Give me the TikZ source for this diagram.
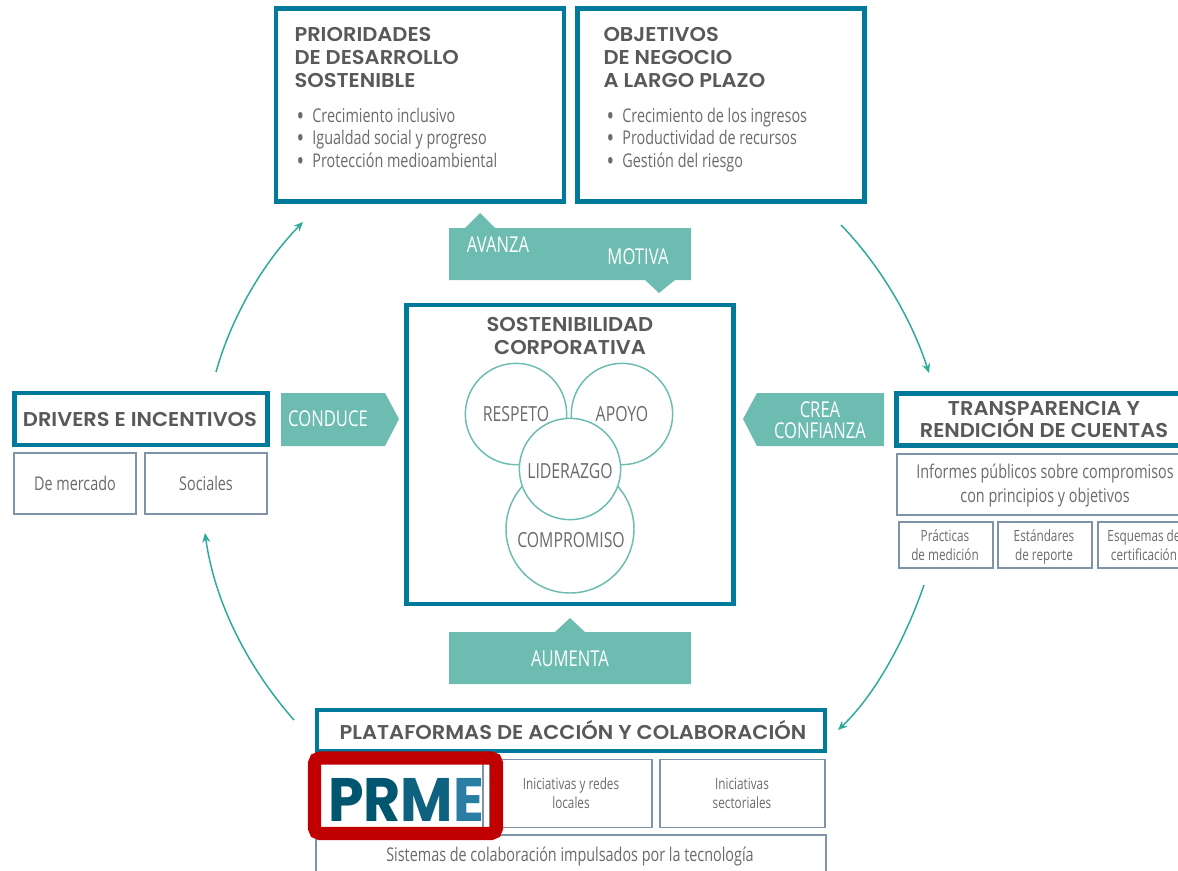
\documentclass[tikz,border=0pt]{standalone}
\usepackage{fontspec}
\usepackage{tikz}
\setmainfont{Open Sans}
\newfontfamily\headfont{Poppins SemiBold}[FakeStretch=1.05]
\newfontfamily\bodyfont{Open Sans}[FakeStretch=0.76]
\newfontfamily\logofont{Poppins}[FakeStretch=0.93]
\definecolor{framecol}{HTML}{007A9A}
\definecolor{thincol}{HTML}{7F94AB}
\definecolor{bandcol}{HTML}{6CBCB2}
\definecolor{arrowcol}{HTML}{2BA99B}
\definecolor{headcol}{HTML}{58595B}
\definecolor{bodycol}{HTML}{6A6B6E}
\definecolor{redcol}{HTML}{C00000}
\tikzset{
  every picture/.style={line width=0.75pt},
  framebox/.style={draw=framecol,line width=3.4pt,fill=white,inner sep=0pt,outer sep=0pt},
  thinbox/.style={draw=thincol,line width=1.4pt,fill=white,inner sep=0pt,outer sep=0pt},
  headtext/.style={anchor=west,inner sep=0.75pt,align=left,text=headcol,font=\headfont\fontsize{15}{17.5}\selectfont},
  headmid/.style={inner sep=0.75pt,align=center,text=headcol,font=\headfont\fontsize{15}{17.2}\selectfont},
  bodytext/.style={anchor=base west,inner sep=0.75pt,text=bodycol,font=\bodyfont\fontsize{14.2}{16}\selectfont},
  bodymid/.style={inner sep=0.75pt,align=center,text=bodycol,font=\bodyfont\fontsize{14.2}{18}\selectfont},
  smalltext/.style={inner sep=0.75pt,align=center,text=bodycol,font=\bodyfont\fontsize{11.6}{14.2}\selectfont},
  bandtext/.style={inner sep=0.75pt,align=center,text=white,font=\bodyfont\fontsize{16.4}{15.5}\selectfont},
  ringnode/.style={circle,draw=bandcol,line width=1.1pt,fill=white,inner sep=0pt,outer sep=0pt},
  ringtext/.style={inner sep=0.75pt,text=bodycol,font=\bodyfont\fontsize{15.6}{16}\selectfont},
  cyclearrow/.style={draw=arrowcol,line width=1.1pt,-{Stealth[length=7pt,width=6pt]}},
}
\newcommand{\dotmark}{\raisebox{-2.4pt}[0pt][0pt]{\fontsize{20}{16}\selectfont\textbullet}\hspace{6.2pt}}
\usetikzlibrary{arrows.meta}
\begin{document}
\begin{tikzpicture}[x=0.75pt,y=0.75pt,yscale=-1,xscale=1]
\useasboundingbox (0,0) rectangle (1178,871);
% top boxes
\node (prioridades) [framebox,minimum width=216pt,minimum height=145pt] at (420,105) {};
\node (objetivos) [framebox,minimum width=215pt,minimum height=145pt] at (721,105) {};
\node (prioridadestitle) [headtext] at (293,57.5) {PRIORIDADES\\DE DESARROLLO\\SOSTENIBLE};
\node (objetivostitle) [headtext] at (602,57.5) {OBJETIVOS\\DE NEGOCIO\\A LARGO PLAZO};
\node (p1) [bodytext] at (295,122) {\dotmark Crecimiento inclusivo};
\node (p2) [bodytext] at (295,144) {\dotmark Igualdad social y progreso};
\node (p3) [bodytext] at (295,167) {\dotmark Protección medioambiental};
\node (o1) [bodytext] at (605,122) {\dotmark Crecimiento de los ingresos};
\node (o2) [bodytext] at (605,144) {\dotmark Productividad de recursos};
\node (o3) [bodytext] at (605,167) {\dotmark Gestión del riesgo};
% teal bands
\fill [bandcol] (449,228) -- (465,228) -- (480,213) -- (495,228) -- (691,228) -- (691,280) -- (675,280) -- (659,293) -- (645,280) -- (449,280) -- cycle ;
\node (avanza) [bandtext] at (498,245) {AVANZA};
\node (motiva) [bandtext] at (638,257) {MOTIVA};
\fill [bandcol] (449,632) -- (555,632) -- (570,618) -- (585,632) -- (691,632) -- (691,684) -- (449,684) -- cycle ;
\node (aumenta) [bandtext] at (570,659) {AUMENTA};
\fill [bandcol] (281,393) -- (385,393) -- (399,419) -- (385,446) -- (281,446) -- cycle ;
\node (conduce) [bandtext] at (328,419) {CONDUCE};
\fill [bandcol] (884,393) -- (757,393) -- (743,419) -- (757,446) -- (884,446) -- cycle ;
\node (crea) [bandtext] at (820,420) {CREA\\CONFIANZA};
% centre
\node (centro) [framebox,minimum width=245pt,minimum height=224pt] at (570,454.5) {};
\node (centrotitle) [headmid] at (570,336) {SOSTENIBILIDAD\\CORPORATIVA};
\node (compromiso) [ringnode,minimum size=96pt] at (570,529) {};
\node (respeto) [ringnode,minimum size=76pt] at (516,414) {};
\node (apoyo) [ringnode,minimum size=76pt] at (622,414) {};
\node (liderazgo) [ringnode,minimum size=76pt] at (570,469) {};
\node (respetotext) [ringtext] at (516,414) {RESPETO};
\node (apoyotext) [ringtext] at (622,414) {APOYO};
\node (liderazgotext) [ringtext] at (570,471) {LIDERAZGO};
\node (compromisotext) [ringtext] at (571,540) {COMPROMISO};
% left
\node (drivers) [framebox,minimum width=190pt,minimum height=39pt] at (141,419) {};
\node (driverstext) [headmid] at (140,419) {DRIVERS E INCENTIVOS};
\node (mercado) [thinbox,minimum width=92pt,minimum height=46pt] at (75,483.5) {};
\node (sociales) [thinbox,minimum width=92pt,minimum height=46pt] at (206,483.5) {};
\node (mercadotext) [bodymid] at (75,483) {De mercado};
\node (socialestext) [bodymid] at (206,483) {Sociales};
% right, runs off the page
\node (transparencia) [framebox,minimum width=224pt,minimum height=39pt] at (1046,419.5) {};
\node (transparenciatext) [headmid] at (1044,419.5) {TRANSPARENCIA Y\\RENDICIÓN DE CUENTAS};
\node (informes) [thinbox,minimum width=222pt,minimum height=46pt] at (1045,484.5) {};
\node (informestext) [bodymid] at (1045,486) {Informes públicos sobre compromisos\\con principios y objetivos};
\node (practicas) [thinbox,minimum width=71pt,minimum height=35pt] at (946,545) {};
\node (estandares) [thinbox,minimum width=70pt,minimum height=35pt] at (1045,545) {};
\node (esquemas) [thinbox,minimum width=70pt,minimum height=35pt] at (1145,545) {};
\node (practicastext) [smalltext] at (945,545) {Prácticas\\de medición};
\node (estandarestext) [smalltext] at (1044,547) {Estándares\\de reporte};
\node (esquemastext) [smalltext] at (1144,545) {Esquemas de\\certificación};
% bottom
\node (plataformas) [framebox,minimum width=381pt,minimum height=31pt] at (571,730.5) {};
\node (plataformastext) [headmid] at (573,730) {PLATAFORMAS DE ACCIÓN Y COLABORACIÓN};
\node (prmebox) [thinbox,minimum width=125pt,minimum height=51pt] at (400,793.5) {};
\node (redes) [thinbox,minimum width=122pt,minimum height=51pt] at (571,793.5) {};
\node (sectoriales) [thinbox,minimum width=124pt,minimum height=51pt] at (742.5,793.5) {};
\node (redestext) [smalltext] at (571,793) {Iniciativas y redes\\locales};
\node (sectorialestext) [smalltext] at (742,793) {Iniciativas\\sectoriales};
\node (sistemas) [thinbox,minimum width=382pt,minimum height=34pt] at (571,858) {};
\node (sistemastext) [bodymid] at (570,857) {Sistemas de colaboración impulsados por la tecnología};
\draw [redcol,line width=9.8pt,rounded corners=4pt] (314.5,758) rectangle (496.5,833.5);
\node (prme) [inner sep=0pt,font=\logofont\bfseries\fontsize{46}{46}\selectfont] at (406,800) {\textcolor[HTML]{00566F}{PR}\textcolor[HTML]{0E627F}{M}\textcolor[HTML]{2A7DA3}{E}};
% cycle arrows
\coordinate (objetivosout) at (841,225);
\coordinate (transparenciain) at (929,373);
\coordinate (transparenciaout) at (924,585);
\coordinate (plataformasin) at (838,730);
\coordinate (plataformasout) at (294,720);
\coordinate (driversin) at (205,533);
\coordinate (driversout) at (216,372);
\coordinate (prioridadesin) at (303,222);
\draw [cyclearrow] (objetivosout) .. controls (880,265) and (912,320) .. (transparenciain);
\draw [cyclearrow] (transparenciaout) .. controls (905,640) and (875,695) .. (plataformasin);
\draw [cyclearrow] (plataformasout) .. controls (250,670) and (215,605) .. (driversin);
\draw [cyclearrow] (driversout) .. controls (232,315) and (264,262) .. (prioridadesin);
\end{tikzpicture}
\end{document}
